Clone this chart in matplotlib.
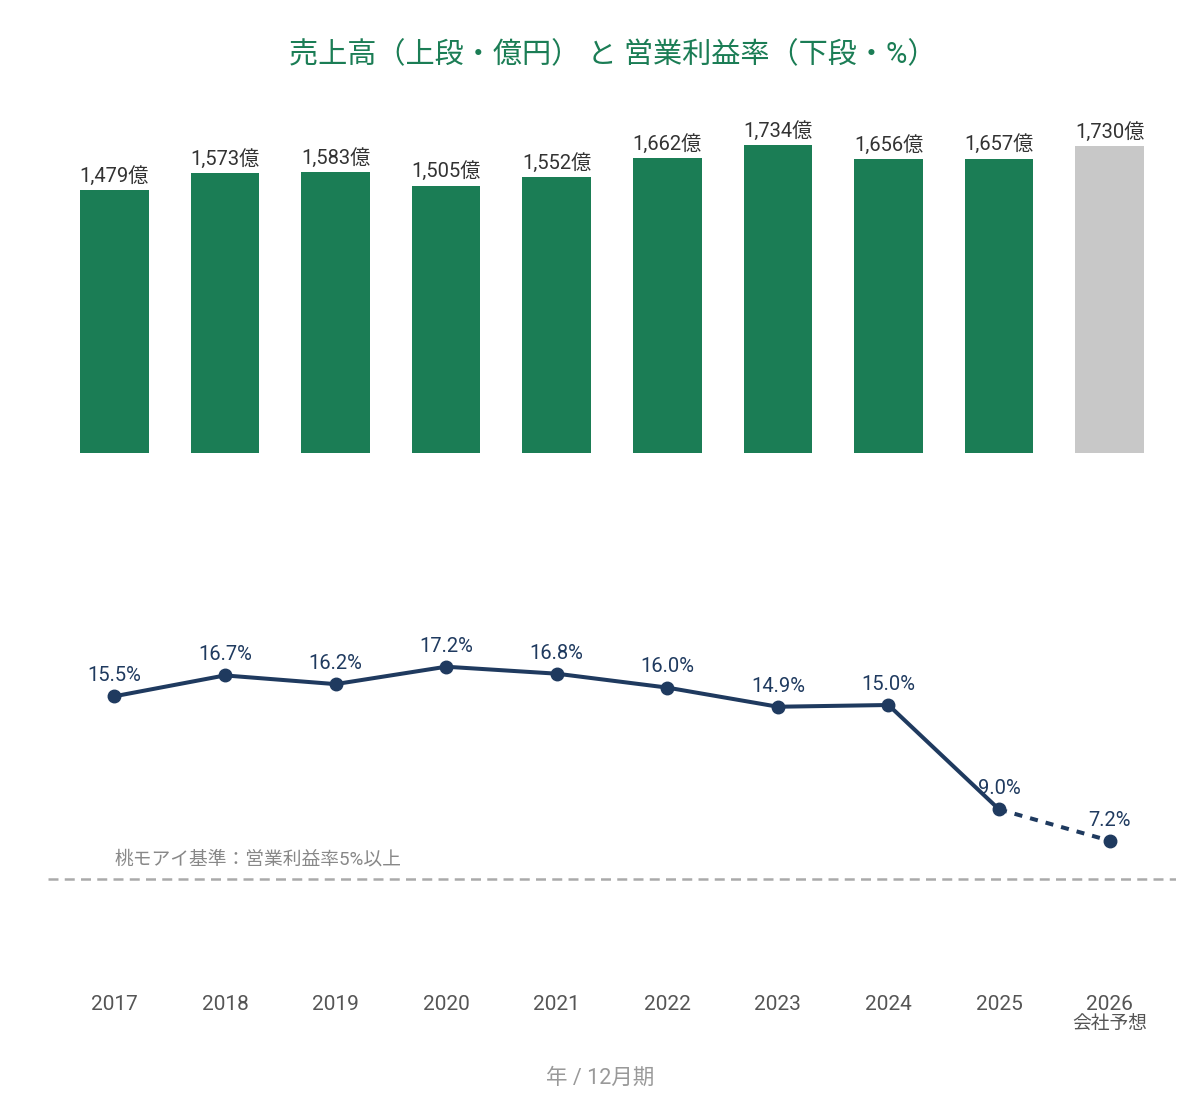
import matplotlib
matplotlib.use("Agg")
import matplotlib.pyplot as plt

plt.rcParams['font.family'] = ['Roboto', 'Noto Sans CJK JP', 'DejaVu Sans']

years = ['2017', '2018', '2019', '2020', '2021', '2022', '2023', '2024', '2025', '2026']
sales = [1479, 1573, 1583, 1505, 1552, 1662, 1734, 1656, 1657, 1730]
margin = [15.5, 16.7, 16.2, 17.2, 16.8, 16.0, 14.9, 15.0, 9.0, 7.2]
forecast = [False] * 9 + [True]
threshold = 5.0

green = '#1b7d55'
grey_bar = '#c8c8c8'
navy = '#1f3a5f'

fig = plt.figure(figsize=(12, 11.1), dpi=100)
H = 1110.0
ax1 = fig.add_axes([0.04, 1 - 453 / H, 0.94, 355.4 / H])
ax2 = fig.add_axes([0.04, 1 - 966 / H, 0.94, 348 / H])

x = list(range(len(years)))
colors = [grey_bar if f else green for f in forecast]
ax1.bar(x, sales, width=0.62, color=colors)
for xi, v in zip(x, sales):
    ax1.annotate(f'{v:,}億', (xi, v), xytext=(0, 3), textcoords='offset points',
                 ha='center', va='bottom', fontsize=14.5, color='#333333')
ax1.set_ylim(0, 2000)

# line: solid for actuals, dashed to forecast
n = forecast.index(True)
ax2.plot(x[:n], margin[:n], color=navy, lw=2.9, zorder=3)
ax2.plot(x[n - 1:], margin[n - 1:], color=navy, lw=2.9, ls=(0, (2, 2)), zorder=3)
ax2.plot(x, margin, 'o', color=navy, ms=9, zorder=4)
for xi, v in zip(x, margin):
    ax2.annotate(f'{v:.1f}%', (xi, v), xytext=(0, 8), textcoords='offset points',
                 ha='center', va='bottom', fontsize=14.5, color=navy, zorder=2)
ax2.axhline(threshold, color='#aaaaaa', lw=1.8, ls=(0, (4, 2.5)))
ax2.text(0, threshold + 0.6, '桃モアイ基準：営業利益率5%以上', fontsize=13.5,
         color='#888888', ha='left', va='bottom')
ax2.set_ylim(0, 20)

for ax in (ax1, ax2):
    ax.set_xlim(-0.6, 9.6)
    ax.set_xticks([])
    ax.set_yticks([])
    for s in ax.spines.values():
        s.set_visible(False)

# year labels below the line chart
tr = ax2.get_xaxis_transform()
for xi, y, f in zip(x, years, forecast):
    ax2.text(xi, (966 - 1005) / 348, y, transform=tr, ha='center', va='center',
             fontsize=15, color='#555555')
    if f:
        ax2.text(xi, (966 - 1025) / 348, '会社予想', transform=tr, ha='center',
                 va='center', fontsize=13.5, color='#555555')

fig.text(613 / 1200, 1 - 55 / H, '売上高（上段・億円） と 営業利益率（下段・%）',
         ha='center', va='center', fontsize=21, color=green)
fig.text(0.5, 1 - 1078 / H, '年 / 12月期', ha='center', va='center',
         fontsize=15.5, color='#999999')

fig.savefig('out.png', dpi=100)
